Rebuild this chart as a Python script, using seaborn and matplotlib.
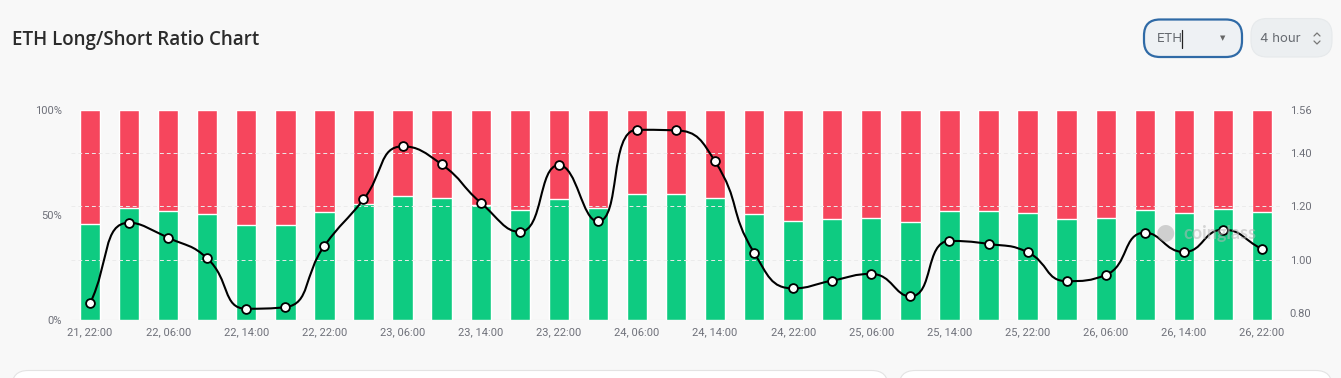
import numpy as np
import pandas as pd
import matplotlib
matplotlib.use("Agg")
import matplotlib.pyplot as plt
import seaborn as sns
from matplotlib.path import Path
from matplotlib.patches import PathPatch, FancyBboxPatch
from matplotlib.lines import Line2D

# ---------------- data ----------------
times = ["21, 22:00", "22, 02:00", "22, 06:00", "22, 10:00", "22, 14:00", "22, 18:00",
         "22, 22:00", "23, 02:00", "23, 06:00", "23, 10:00", "23, 14:00", "23, 18:00",
         "23, 22:00", "24, 02:00", "24, 06:00", "24, 10:00", "24, 14:00", "24, 18:00",
         "24, 22:00", "25, 02:00", "25, 06:00", "25, 10:00", "25, 14:00", "25, 18:00",
         "25, 22:00", "26, 02:00", "26, 06:00", "26, 10:00", "26, 14:00", "26, 18:00",
         "26, 22:00"]
long_pct = [45.7, 53.2, 52.0, 50.3, 45.1, 45.2, 51.4, 55.2, 58.9, 57.8, 54.8,
            52.4, 57.5, 53.2, 59.9, 59.9, 57.8, 50.6, 47.1, 47.8, 48.6,
            46.5, 51.9, 51.6, 51.0, 48.0, 48.7, 52.4, 51.0, 52.7, 51.3]
short_pct = [100 - v for v in long_pct]
ratio = [0.837, 1.138, 1.082, 1.005, 0.817, 0.823, 1.052, 1.225, 1.423, 1.356, 1.213,
         1.104, 1.353, 1.143, 1.485, 1.483, 1.367, 1.026, 0.893, 0.922, 0.947,
         0.863, 1.070, 1.059, 1.028, 0.920, 0.943, 1.101, 1.029, 1.112, 1.040]
left_ticks = [0, 50, 100]
left_labels = ["0%", "50%", "100%"]
right_ticks = [0.80, 1.00, 1.20, 1.40, 1.56]
title = "ETH Long/Short Ratio Chart"

GREEN = "#0ecb81"
RED = "#f6465d"
BG = "#f8f8f8"
LABEL = "#6e7079"

W, H = 1341, 378
sns.set_theme(style="white")
plt.rcParams["font.family"] = ["Roboto", "DejaVu Sans"]

fig = plt.figure(figsize=(W / 100, H / 100), dpi=100, facecolor=BG)


def fx(x):
    return x / W


def fy(y):
    return 1 - y / H


# plot area in pixels: left 70.5, right 1281.5, top 109.7, bottom 320
ax = fig.add_axes([fx(70.5), fy(320), (1281.5 - 70.5) / W, (320 - 109.7) / H])
ax.set_facecolor("none")

idx = list(range(len(times)))
df = pd.DataFrame({"i": idx, "t": times, "long": long_pct, "short": short_pct, "ratio": ratio})

# stacked bars: full (red) behind, long (green) in front
sns.barplot(data=df, x="i", y=[100] * len(idx), color=RED, width=0.52, saturation=1,
            ax=ax, zorder=2)
sns.barplot(data=df, x="i", y="long", color=GREEN, width=0.52, saturation=1,
            ax=ax, zorder=3)
ax.set_xlim(-0.5, len(idx) - 0.5)
ax.set_ylim(0, 100)
ax.set_yticks(left_ticks)
ax.set_yticklabels(left_labels)
ax.set_xticks(idx[::2])
ax.set_xticklabels(times[::2])
ax.set_xlabel("")
ax.set_ylabel("")
for s in ax.spines.values():
    s.set_visible(False)
ax.tick_params(axis="both", length=0, labelsize=8, colors=LABEL)
ax.tick_params(axis="y", pad=6)
ax.tick_params(axis="x", pad=5)
ax.axhline(0, color="#e0e0e0", lw=0.8, zorder=1)

# right axis
ax2 = ax.twinx()
ax2.set_position(ax.get_position())
ax2.set_facecolor("none")
ax2.set_ylim(0.775, 1.5575)
ax2.set_yticks(right_ticks)
ax2.set_yticklabels([f"{v:.2f}" for v in right_ticks])
for s in ax2.spines.values():
    s.set_visible(False)
ax2.tick_params(axis="y", length=0, labelsize=8, colors=LABEL, pad=6)
for v in right_ticks[1:4]:
    ax2.axhline(v, color="#ebebeb", lw=0.7, ls=(0, (4, 3)), zorder=0)
ax.set_zorder(1)
ax2.set_zorder(2)


# smooth line (echarts-like bezier smoothing with clamped control points)
def clamp(p, a, b):
    lo = np.minimum(a, b)
    hi = np.maximum(a, b)
    return np.minimum(np.maximum(p, lo), hi)


pts = ax2.transData.transform(np.column_stack([idx, ratio]))
n = len(pts)
smooth = 0.5
cp_in, cp_out = [None] * n, [None] * n
for k in range(n):
    cur = pts[k]
    prev = pts[k - 1] if k > 0 else cur
    nxt = pts[k + 1] if k < n - 1 else cur
    vec = nxt - prev
    lp = np.hypot(*(cur - prev))
    ln = np.hypot(*(nxt - cur))
    r = ln / (lp + ln) if (lp + ln) > 0 else 0.5
    out = cur + vec * smooth * r
    inn = cur - vec * smooth * (1 - r)
    out = clamp(out, cur, nxt)
    inn = clamp(inn, prev, cur)
    if lp > 0 and ln > 0:
        v = out - cur
        inn = clamp(cur - v * lp / ln, prev, cur)
        v = cur - inn
        out = clamp(cur + v * ln / lp, cur, nxt)
    cp_in[k], cp_out[k] = inn, out
verts = [pts[0]]
codes = [Path.MOVETO]
for k in range(n - 1):
    verts += [cp_out[k], cp_in[k + 1], pts[k + 1]]
    codes += [Path.CURVE4] * 3
verts = ax2.transData.inverted().transform(np.array(verts))
ax2.add_patch(PathPatch(Path(verts, codes), facecolor="none", edgecolor="black",
                        lw=1.5, zorder=4, transform=ax2.transData))
sns.scatterplot(data=df, x="i", y="ratio", ax=ax2, s=40, color="white",
                edgecolor="black", linewidth=1.3, zorder=5, legend=False)
ax2.set_xlabel("")
ax2.set_ylabel("")

# watermark
fig.text(fx(1183), fy(233), "coinglass", fontsize=13, color="#b8b8b8", alpha=0.55,
         fontweight="bold", va="center", ha="left", family=["Lato", "DejaVu Sans"])
fig.text(fx(1156), fy(232), "\u25cf", fontsize=16, color="#a8a8a8", alpha=0.5,
         va="center", ha="left", family=["DejaVu Sans"])

# title
fig.text(fx(12), fy(40), title, fontsize=13.5, color="#2b2b2b", fontweight=600,
         va="center", ha="left", family=["Open Sans", "DejaVu Sans"])


# top-right controls
def box(x0, y0, x1, y1, fc, ec, lw):
    p = FancyBboxPatch((fx(x0), fy(y1)), fx(x1 - x0), (y1 - y0) / H,
                       boxstyle="round,pad=0,rounding_size=0.012",
                       transform=fig.transFigure, facecolor=fc, edgecolor=ec, lw=lw,
                       mutation_aspect=W / H)
    fig.add_artist(p)


box(1144, 19.5, 1242, 57, "#eef1f4", "#2f6aa6", 1.6)
fig.text(fx(1157), fy(38.5), "ETH", fontsize=9.5, color="#666a70", va="center", ha="left",
         family=["Inter", "DejaVu Sans"])
fig.add_artist(Line2D([fx(1182), fx(1182)], [fy(30), fy(48)], color="#222", lw=0.9,
                      transform=fig.transFigure))
fig.text(fx(1223), fy(38), "\u25bc", fontsize=5, color="#666", va="center", ha="center",
         family=["DejaVu Sans"])
box(1251, 18.5, 1332, 57, "#eceff1", "#e6e9eb", 0.8)
fig.text(fx(1260), fy(38.5), "4 hour", fontsize=9.5, color="#666a70", va="center",
         ha="left", family=["Inter", "DejaVu Sans"])
fig.add_artist(Line2D([fx(1314), fx(1317), fx(1320)], [fy(36), fy(33), fy(36)],
                      color="#777", lw=0.9, transform=fig.transFigure))
fig.add_artist(Line2D([fx(1314), fx(1317), fx(1320)], [fy(41), fy(44), fy(41)],
                      color="#777", lw=0.9, transform=fig.transFigure))

# bottom cards
box(12, 370.5, 888, 400, "white", "#e3e3e3", 0.8)
box(899, 370.5, 1332, 400, "white", "#e3e3e3", 0.8)

fig.savefig("out.png", dpi=100, facecolor=BG)
